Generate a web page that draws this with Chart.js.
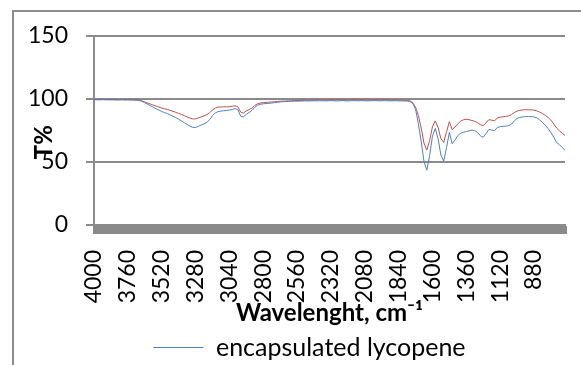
<!DOCTYPE html>
<html>
<head>
<meta charset="utf-8">
<script src="https://cdn.jsdelivr.net/npm/chart.js@4.4.0/dist/chart.umd.min.js"></script>
<style>
  html, body { margin: 0; padding: 0; background: #ffffff; overflow: hidden; }
  #moldura { position: absolute; left: 12px; top: 10px; width: 700px; height: 500px; border: 2px solid #8c8c8c; }
  #grafico { position: absolute; left: 0; top: 0; }
</style>
</head>
<body>
<div id="moldura"></div>
<canvas id="grafico" width="581" height="365"></canvas>
<script>
// numero de onda (cm-1), de 20 em 20
const numerosOnda = [
  4000, 3980, 3960, 3940, 3920, 3900, 3880, 3860, 3840, 3820, 3800, 3780, 3760, 3740, 3720, 3700,
  3680, 3660, 3640, 3620, 3600, 3580, 3560, 3540, 3520, 3500, 3480, 3460, 3440, 3420, 3400, 3380,
  3360, 3340, 3320, 3300, 3280, 3260, 3240, 3220, 3200, 3180, 3160, 3140, 3120, 3100, 3080, 3060,
  3040, 3020, 3000, 2980, 2960, 2940, 2920, 2900, 2880, 2860, 2840, 2820, 2800, 2780, 2760, 2740,
  2720, 2700, 2680, 2660, 2640, 2620, 2600, 2580, 2560, 2540, 2520, 2500, 2480, 2460, 2440, 2420,
  2400, 2380, 2360, 2340, 2320, 2300, 2280, 2260, 2240, 2220, 2200, 2180, 2160, 2140, 2120, 2100,
  2080, 2060, 2040, 2020, 2000, 1980, 1960, 1940, 1920, 1900, 1880, 1860, 1840, 1820, 1800, 1780,
  1760, 1740, 1720, 1700, 1680, 1660, 1640, 1620, 1600, 1580, 1560, 1540, 1520, 1500, 1480, 1460,
  1440, 1420, 1400, 1380, 1360, 1340, 1320, 1300, 1280, 1260, 1240, 1220, 1200, 1180, 1160, 1140,
  1120, 1100, 1080, 1060, 1040, 1020, 1000, 980, 960, 940, 920, 900, 880, 860, 840, 820,
  800, 780, 760, 740, 720, 700, 680, 660
];

// rotulos que aparecem no eixo x
const rotulosX = [4000, 3760, 3520, 3280, 3040, 2800, 2560, 2320, 2080, 1840, 1600, 1360, 1120, 880];

// T% licopeno encapsulado (azul)
const encapsulado = [
  99.5, 99.4, 99.4, 99.5, 99.4, 99.4, 99.3, 99.4, 99.3, 99.3, 99.4, 99.3, 99.3, 99.2, 99.2, 99.1,
  98.8, 98.2, 97.0, 95.9, 94.7, 93.5, 92.3, 91.2, 90.1, 89.2, 88.4, 87.4, 86.3, 85.2, 84.0, 82.6,
  81.2, 79.8, 78.5, 77.5, 77.4, 78.3, 79.4, 80.3, 81.4, 83.6, 86.8, 89.0, 90.0, 90.4, 90.7, 90.9,
  91.2, 91.7, 92.3, 91.6, 86.4, 85.8, 87.9, 89.2, 91.0, 93.4, 95.1, 95.8, 96.2, 96.4, 96.6, 96.8,
  97.1, 97.4, 97.7, 97.9, 98.0, 98.1, 98.2, 98.3, 98.3, 98.4, 98.4, 98.5, 98.4, 98.5, 98.6, 98.5,
  98.6, 98.6, 98.5, 98.6, 98.7, 98.6, 98.5, 98.6, 98.7, 98.6, 98.5, 98.6, 98.7, 98.6, 98.6, 98.7,
  98.6, 98.5, 98.6, 98.7, 98.7, 98.6, 98.6, 98.7, 98.6, 98.5, 98.6, 98.6, 98.5, 98.5, 98.4, 98.4,
  98.1, 96.5, 92.0, 80.5, 66.5, 50.5, 43.5, 55.0, 70.5, 76.6, 68.5, 55.5, 50.6, 61.5, 73.4, 64.5,
  67.5, 71.0, 72.8, 73.6, 74.2, 74.8, 75.3, 74.9, 73.4, 70.8, 69.6, 72.5, 75.8, 75.4, 74.8, 77.4,
  78.0, 78.3, 78.5, 78.8, 80.0, 82.6, 84.6, 85.4, 85.8, 86.0, 86.1, 86.0, 85.8, 85.0, 83.4, 81.4,
  79.2, 76.6, 73.4, 69.8, 65.5, 63.8, 61.5, 59.3
];

// T% licopeno (vermelho) - legenda cortada na figura original
const licopeno = [
  99.6, 99.6, 99.5, 99.6, 99.5, 99.5, 99.6, 99.5, 99.4, 99.5, 99.5, 99.4, 99.5, 99.4, 99.4, 99.3,
  99.1, 98.5, 97.6, 96.8, 96.0, 95.2, 94.4, 93.6, 92.8, 92.2, 91.7, 91.0, 90.2, 89.4, 88.6, 87.7,
  86.8, 85.8, 84.9, 84.2, 84.2, 85.0, 85.8, 86.6, 87.6, 89.2, 91.2, 92.8, 93.6, 93.7, 93.8, 93.8,
  93.9, 94.2, 94.6, 93.8, 89.6, 88.8, 90.6, 91.6, 92.8, 94.8, 96.2, 96.8, 97.1, 97.3, 97.5, 97.6,
  97.8, 98.0, 98.2, 98.3, 98.4, 98.5, 98.6, 98.7, 98.8, 98.8, 98.9, 99.0, 99.0, 99.1, 99.0, 99.1,
  99.2, 99.2, 99.1, 99.2, 99.3, 99.2, 99.2, 99.3, 99.2, 99.1, 99.2, 99.3, 99.2, 99.2, 99.3, 99.3,
  99.2, 99.1, 99.2, 99.2, 99.3, 99.2, 99.2, 99.3, 99.2, 99.1, 99.2, 99.2, 99.1, 99.0, 99.0, 98.9,
  98.6, 97.2, 93.5, 87.0, 77.0, 65.0, 59.5, 67.0, 78.0, 82.6, 77.5, 68.5, 65.5, 74.0, 82.0, 75.6,
  77.8, 80.2, 82.5, 83.5, 83.9, 83.6, 82.9, 82.3, 81.2, 79.6, 78.9, 81.0, 83.6, 83.2, 82.6, 85.0,
  85.6, 85.9, 86.2, 86.6, 87.6, 89.2, 90.4, 91.0, 91.3, 91.5, 91.5, 91.4, 91.2, 90.6, 89.6, 88.4,
  87.0, 85.4, 83.2, 80.2, 77.0, 74.8, 73.0, 71.0
];

const cinza = '#8a8a8a';
Chart.defaults.font.family = 'Lato';
Chart.defaults.color = '#000000';

// desloca a legenda um pouco para a direita, como no original
const ajusteLegenda = {
  id: 'ajusteLegenda',
  afterLayout(chart) {
    if (chart.legend) {
      chart.legend.left += 20;
      chart.legend.right += 20;
    }
  }
};

const ctx = document.getElementById('grafico').getContext('2d');
const grafico = new Chart(ctx, {
  type: 'line',
  data: {
    labels: numerosOnda,
    datasets: [
      {
        label: 'encapsulated lycopene',
        data: encapsulado,
        borderColor: '#4f81bd',
        backgroundColor: '#4f81bd',
        borderWidth: 1,
        pointRadius: 0,
        tension: 0
      },
      {
        label: 'lycopene',
        data: licopeno,
        borderColor: '#c0504d',
        backgroundColor: '#c0504d',
        borderWidth: 1,
        pointRadius: 0,
        tension: 0
      }
    ]
  },
  plugins: [ajusteLegenda],
  options: {
    responsive: false,
    animation: false,
    devicePixelRatio: 1,
    layout: { padding: { left: 14, right: 16, top: 36, bottom: -5 } },
    plugins: {
      legend: {
        position: 'bottom',
        labels: {
          usePointStyle: true,
          pointStyle: 'line',
          pointStyleWidth: 50,
          padding: 5,
          font: { size: 25 },
          color: '#000000',
          filter: item => item.datasetIndex === 0
        }
      },
      tooltip: { enabled: false }
    },
    scales: {
      x: {
        type: 'category',
        afterFit: escala => {
          escala.height = 105;
          escala.paddingLeft = 0;
          escala.paddingRight = 0;
        },
        grid: {
          display: true,
          drawOnChartArea: false,
          drawTicks: true,
          tickLength: 9,
          tickWidth: 3,
          tickColor: cinza
        },
        border: { display: true, color: cinza, width: 2 },
        ticks: {
          autoSkip: false,
          minRotation: 90,
          maxRotation: 90,
          padding: 16,
          font: { size: 23 },
          color: '#000000',
          callback: function(valor) {
            const w = this.getLabelForValue(valor);
            return rotulosX.includes(w) ? String(w) : '';
          }
        },
        title: {
          display: true,
          text: 'Wavelenght, cm\u207B\u00B9',
          font: { size: 24, weight: 'bold' },
          color: '#000000',
          padding: { top: 0, bottom: 2 }
        }
      },
      y: {
        min: 0,
        max: 150,
        afterFit: escala => { escala.width = 80; },
        grid: {
          color: cinza,
          lineWidth: 2,
          tickLength: 8
        },
        border: { display: true, color: cinza, width: 2 },
        ticks: {
          stepSize: 50,
          padding: 18,
          font: { size: 23 },
          color: '#000000'
        },
        title: {
          display: true,
          text: 'T%    ',
          font: { size: 24, weight: 'bold' },
          color: '#000000',
          padding: { top: 16, bottom: 0 }
        }
      }
    }
  }
});
</script>
</body>
</html>
